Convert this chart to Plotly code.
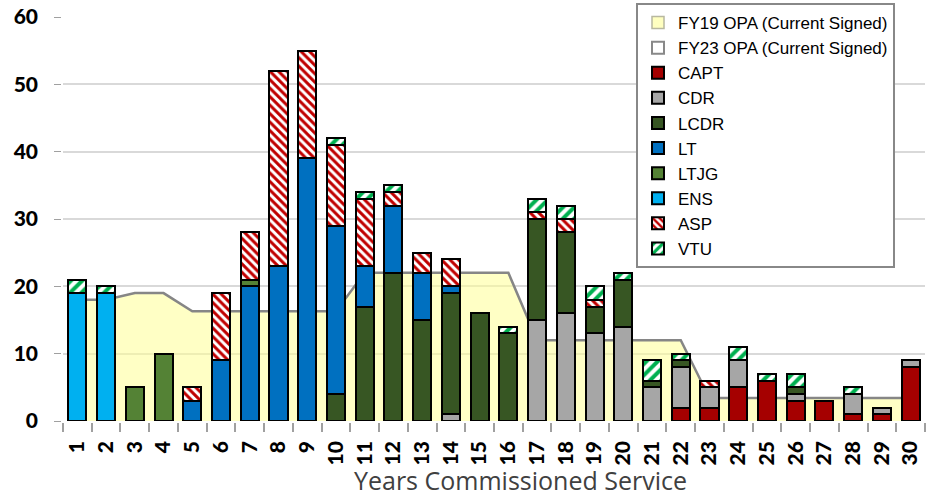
import plotly.graph_objects as go

years = [str(i) for i in range(1, 31)]

fy19_opa = [18, 18, 19, 19, 16.3, 16.3, 16.3, 16.3, 16.3, 16.3,
            22, 22, 22, 22, 22, 22, 12, 12, 12, 12,
            12, 12, 3.4, 3.4, 3.4, 3.4, 3.4, 3.4, 3.4, 3.4]
fy23_opa = [18, 18, 19, 19, 16.3, 16.3, 16.3, 16.3, 16.3, 16.3,
            22, 22, 22, 22, 22, 22, 12, 12, 12, 12,
            12, 12, 3.4, 3.4, 3.4, 3.4, 3.4, 3.4, 3.4, 3.4]

capt = [0, 0, 0, 0, 0, 0, 0, 0, 0, 0, 0, 0, 0, 0, 0, 0, 0, 0, 0, 0,
        0, 2, 2, 5, 6, 3, 3, 1, 1, 8]
cdr = [0, 0, 0, 0, 0, 0, 0, 0, 0, 0, 0, 0, 0, 1, 0, 0, 15, 16, 13, 14,
       5, 6, 3, 4, 0, 1, 0, 3, 1, 1]
lcdr = [0, 0, 0, 0, 0, 0, 0, 0, 0, 4, 17, 22, 15, 18, 16, 13, 15, 12, 4, 7,
        1, 1, 0, 0, 0, 1, 0, 0, 0, 0]
lt = [0, 0, 0, 0, 3, 9, 20, 23, 39, 25, 6, 10, 7, 1, 0, 0, 0, 0, 0, 0,
      0, 0, 0, 0, 0, 0, 0, 0, 0, 0]
ltjg = [0, 0, 5, 10, 0, 0, 1, 0, 0, 0, 0, 0, 0, 0, 0, 0, 0, 0, 0, 0,
        0, 0, 0, 0, 0, 0, 0, 0, 0, 0]
ens = [19, 19, 0, 0, 0, 0, 0, 0, 0, 0, 0, 0, 0, 0, 0, 0, 0, 0, 0, 0,
       0, 0, 0, 0, 0, 0, 0, 0, 0, 0]
asp = [0, 0, 0, 0, 2, 10, 7, 29, 16, 12, 10, 2, 3, 4, 0, 0, 1, 2, 1, 0,
       0, 0, 1, 0, 0, 0, 0, 0, 0, 0]
vtu = [2, 1, 0, 0, 0, 0, 0, 0, 0, 1, 1, 1, 0, 0, 0, 1, 2, 2, 2, 1,
       3, 1, 0, 2, 1, 2, 0, 1, 0, 0]

fig = go.Figure()

# OPA areas (drawn behind the bars)
fig.add_trace(go.Scatter(
    x=years, y=fy19_opa, name="FY19 OPA (Current Signed)", mode="lines",
    fill="tozeroy", fillcolor="rgba(255,255,150,0.55)", legendgroup="fy19",
    showlegend=False, line=dict(width=0), zorder=-2, hoverinfo="skip"))
fig.add_trace(go.Scatter(
    x=years, y=fy23_opa, name="FY23 OPA (Current Signed)", mode="lines",
    legendgroup="fy23", showlegend=False,
    line=dict(width=2.5, color="#868686"), zorder=-1, hoverinfo="skip"))

# legend swatches (square) for the two OPA series; no bars are drawn
no_bar = [None] * len(years)
fig.add_trace(go.Bar(
    x=years, y=no_bar, name="FY19 OPA (Current Signed)", legendgroup="fy19",
    hoverinfo="skip",
    marker=dict(color="#FFFFC0", line=dict(color="#B8B8A0", width=1.5))))
fig.add_trace(go.Bar(
    x=years, y=no_bar, name="FY23 OPA (Current Signed)", legendgroup="fy23",
    hoverinfo="skip",
    marker=dict(color="white", line=dict(color="#888888", width=2))))

solid = [("CAPT", capt, "#A50000"), ("CDR", cdr, "#A6A6A6"), ("LCDR", lcdr, "#375623"),
         ("LT", lt, "#0070C0"), ("LTJG", ltjg, "#548235"), ("ENS", ens, "#00B0F0")]
for name, vals, col in solid:
    fig.add_trace(go.Bar(
        x=years, y=vals, name=name, zorder=1,
        marker=dict(color=col, line=dict(color="black", width=2))))

fig.add_trace(go.Bar(
    x=years, y=asp, name="ASP", zorder=1,
    marker=dict(color="#C00000", line=dict(color="black", width=2),
                pattern=dict(shape="\\", fgcolor="#C00000", bgcolor="white",
                             size=6, solidity=0.5, fillmode="replace"))))
fig.add_trace(go.Bar(
    x=years, y=vtu, name="VTU", zorder=1,
    marker=dict(color="#00B050", line=dict(color="black", width=2),
                pattern=dict(shape="/", fgcolor="#00B050", bgcolor="white",
                             size=8, solidity=0.5, fillmode="replace"))))

fig.update_layout(
    width=935, height=499,
    margin=dict(l=63, r=10, t=17, b=78, autoexpand=False),
    barmode="stack", bargap=0.37,
    plot_bgcolor="white", paper_bgcolor="white",
    showlegend=True,
    legend=dict(
        xref="container", yref="container", x=636/935, y=1-3/499,
        xanchor="left", yanchor="top", traceorder="normal",
        bgcolor="white", bordercolor="#888888", borderwidth=2,
        font=dict(family="Liberation Sans, Arial", size=17, color="black"),
        itemwidth=30, tracegroupgap=0, maxheight=450),
    xaxis=dict(
        type="category", tickmode="linear", tick0=0, dtick=1,
        tickson="boundaries", ticks="outside", ticklen=9, automargin=False,
        tickcolor="#A0A0A0", tickwidth=1.5, showline=True, linecolor="#A0A0A0",
        linewidth=1.5, tickangle=-90, showgrid=False,
        tickfont=dict(family="Lato", size=21, color="black", weight=900),
        ticklabelstandoff=10),
    yaxis=dict(
        range=[0, 60], dtick=10, ticks="outside", ticklen=7, tickcolor="#A0A0A0",
        showline=True, linecolor="#A0A0A0", linewidth=1.5, automargin=False,
        gridcolor="#D9D9D9", gridwidth=1.5, zeroline=False,
        tickfont=dict(family="Lato", size=21, color="black", weight=900),
        ticklabelstandoff=12),
    annotations=[dict(
        text="Years Commissioned Service", xref="paper", yref="paper",
        x=(520-63)/(925-63), y=(421-499)/404, xanchor="center", yanchor="bottom",
        showarrow=False, font=dict(family="Open Sans", size=25, color="#404040"))],
)

fig.write_html("out.html", config={"displayModeBar": False},
               post_script="document.body.style.margin='0px';")
